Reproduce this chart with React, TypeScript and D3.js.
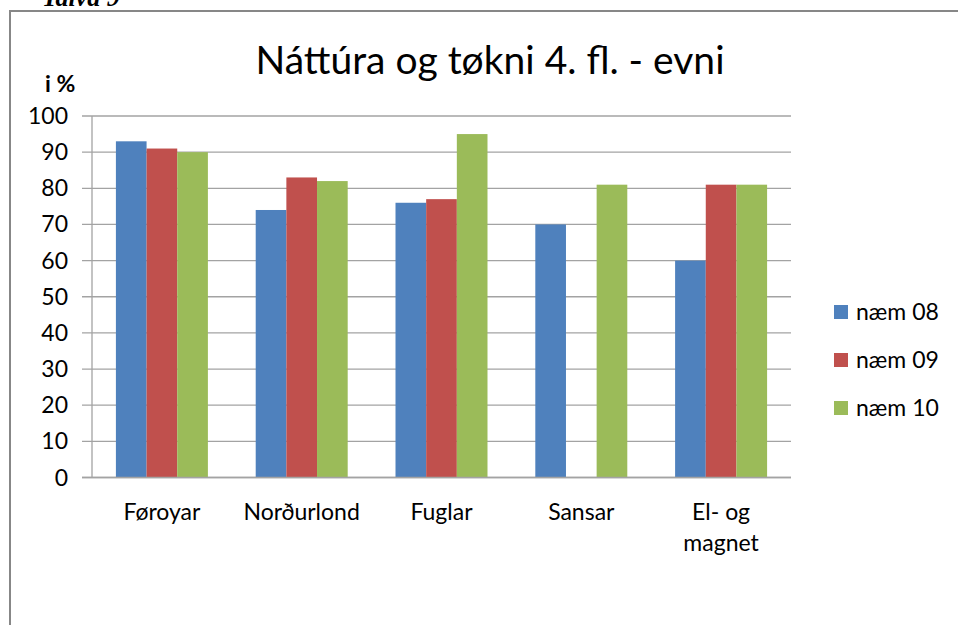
import * as d3 from "d3";
import { useEffect, useRef } from "react";

const categories = ["Føroyar", "Norðurlond", "Fuglar", "Sansar", "El- og magnet"];
const seriesNames = ["næm 08", "næm 09", "næm 10"];
const naem08 = [93, 74, 76, 70, 60];
const naem09 = [91, 83, 77, null, 81];
const naem10 = [90, 82, 95, 81, 81];
const yTicks = [0, 10, 20, 30, 40, 50, 60, 70, 80, 90, 100];
const colors = ["#4F81BD", "#C0504D", "#9BBB59"];

const FONT = "Lato, 'Open Sans', sans-serif";

const App = () => {
  const svgRef = useRef<SVGSVGElement>(null);

  useEffect(() => {
    const svg = d3.select(svgRef.current);
    svg.selectAll("*").remove();

    const W = 958;
    const H = 625;
    const left = 92;
    const right = 791;
    const top = 116;
    const bottom = 477.5;

    svg.attr("width", W).attr("height", H);

    svg.append("rect").attr("width", W).attr("height", H).attr("fill", "#fff");

    // caption cut off at the top of the page
    svg
      .append("text")
      .attr("x", 42)
      .attr("y", 6)
      .style("font-family", "'Liberation Serif', serif")
      .style("font-style", "italic")
      .style("font-weight", "bold")
      .style("font-size", "26px")
      .text("Talva 9");

    // frame
    svg
      .append("path")
      .attr("d", `M10,${H + 5} L10,11 L${W + 5},11`)
      .attr("fill", "none")
      .attr("stroke", "#878787")
      .attr("stroke-width", 2);

    const x0 = d3.scaleBand().domain(categories).range([left, right]).padding(0);
    const gap = x0.bandwidth() * 0.171;
    const x1 = d3
      .scaleBand()
      .domain(seriesNames)
      .range([gap, x0.bandwidth() - gap])
      .padding(0);
    const y = d3.scaleLinear().domain([0, 100]).range([bottom, top]);

    // gridlines + y axis ticks
    const grid = svg.append("g");
    yTicks.forEach((t) => {
      grid
        .append("line")
        .attr("x1", left - 10)
        .attr("x2", right)
        .attr("y1", y(t))
        .attr("y2", y(t))
        .attr("stroke", "#a3a3a3")
        .attr("stroke-width", 1.3);
      grid
        .append("text")
        .attr("x", 68)
        .attr("y", y(t) + 8)
        .attr("text-anchor", "end")
        .style("font-family", FONT)
        .style("font-size", "23px")
        .style("fill", "#000")
        .text(t);
    });
    grid
      .append("line")
      .attr("x1", left)
      .attr("x2", left)
      .attr("y1", top)
      .attr("y2", bottom)
      .attr("stroke", "#a3a3a3")
      .attr("stroke-width", 1.3);

    // bars
    const seriesData = [naem08, naem09, naem10];
    seriesData.forEach((vals, si) => {
      svg
        .append("g")
        .selectAll("rect")
        .data(categories.map((c, i) => ({ c, v: vals[i] })).filter((d) => d.v != null))
        .enter()
        .append("rect")
        .attr("x", (d) => (x0(d.c) || 0) + (x1(seriesNames[si]) || 0))
        .attr("y", (d) => y(d.v as number))
        .attr("width", x1.bandwidth())
        .attr("height", (d) => bottom - y(d.v as number))
        .attr("fill", colors[si]);
    });

    // x-axis line on top of bars
    svg
      .append("line")
      .attr("x1", left - 10)
      .attr("x2", right)
      .attr("y1", bottom)
      .attr("y2", bottom)
      .attr("stroke", "#a3a3a3")
      .attr("stroke-width", 1.3);

    // category labels
    categories.forEach((c) => {
      const cx = (x0(c) || 0) + x0.bandwidth() / 2;
      const lines = c === "El- og magnet" ? ["El- og", "magnet"] : [c];
      lines.forEach((ln, li) => {
        svg
          .append("text")
          .attr("x", cx)
          .attr("y", 520 + li * 31)
          .attr("text-anchor", "middle")
          .style("font-family", FONT)
          .style("font-size", "23px")
          .text(ln);
      });
    });

    // title
    svg
      .append("text")
      .attr("x", 490)
      .attr("y", 74)
      .attr("text-anchor", "middle")
      .style("font-family", FONT)
      .style("font-size", "39px")
      .text("Náttúra og tøkni 4. fl. - evni");

    // unit label
    svg
      .append("text")
      .attr("x", 45)
      .attr("y", 92)
      .style("font-family", FONT)
      .style("font-weight", "bold")
      .style("font-size", "23px")
      .text("i %");

    // legend
    const legend = svg
      .selectAll(".legend")
      .data(seriesNames)
      .enter()
      .append("g")
      .attr("class", "legend")
      .attr("transform", (d, i) => `translate(834,${312 + i * 48})`);
    legend
      .append("rect")
      .attr("x", 0)
      .attr("y", -7)
      .attr("width", 14)
      .attr("height", 14)
      .attr("fill", (d, i) => colors[i]);
    legend
      .append("text")
      .attr("x", 22)
      .attr("y", 8)
      .style("font-family", FONT)
      .style("font-size", "23px")
      .text((d) => d);
  }, []);

  return (
    <svg
      ref={svgRef}
      style={{ position: "absolute", left: 0, top: 0, display: "block" }}
    ></svg>
  );
};

export default App;
